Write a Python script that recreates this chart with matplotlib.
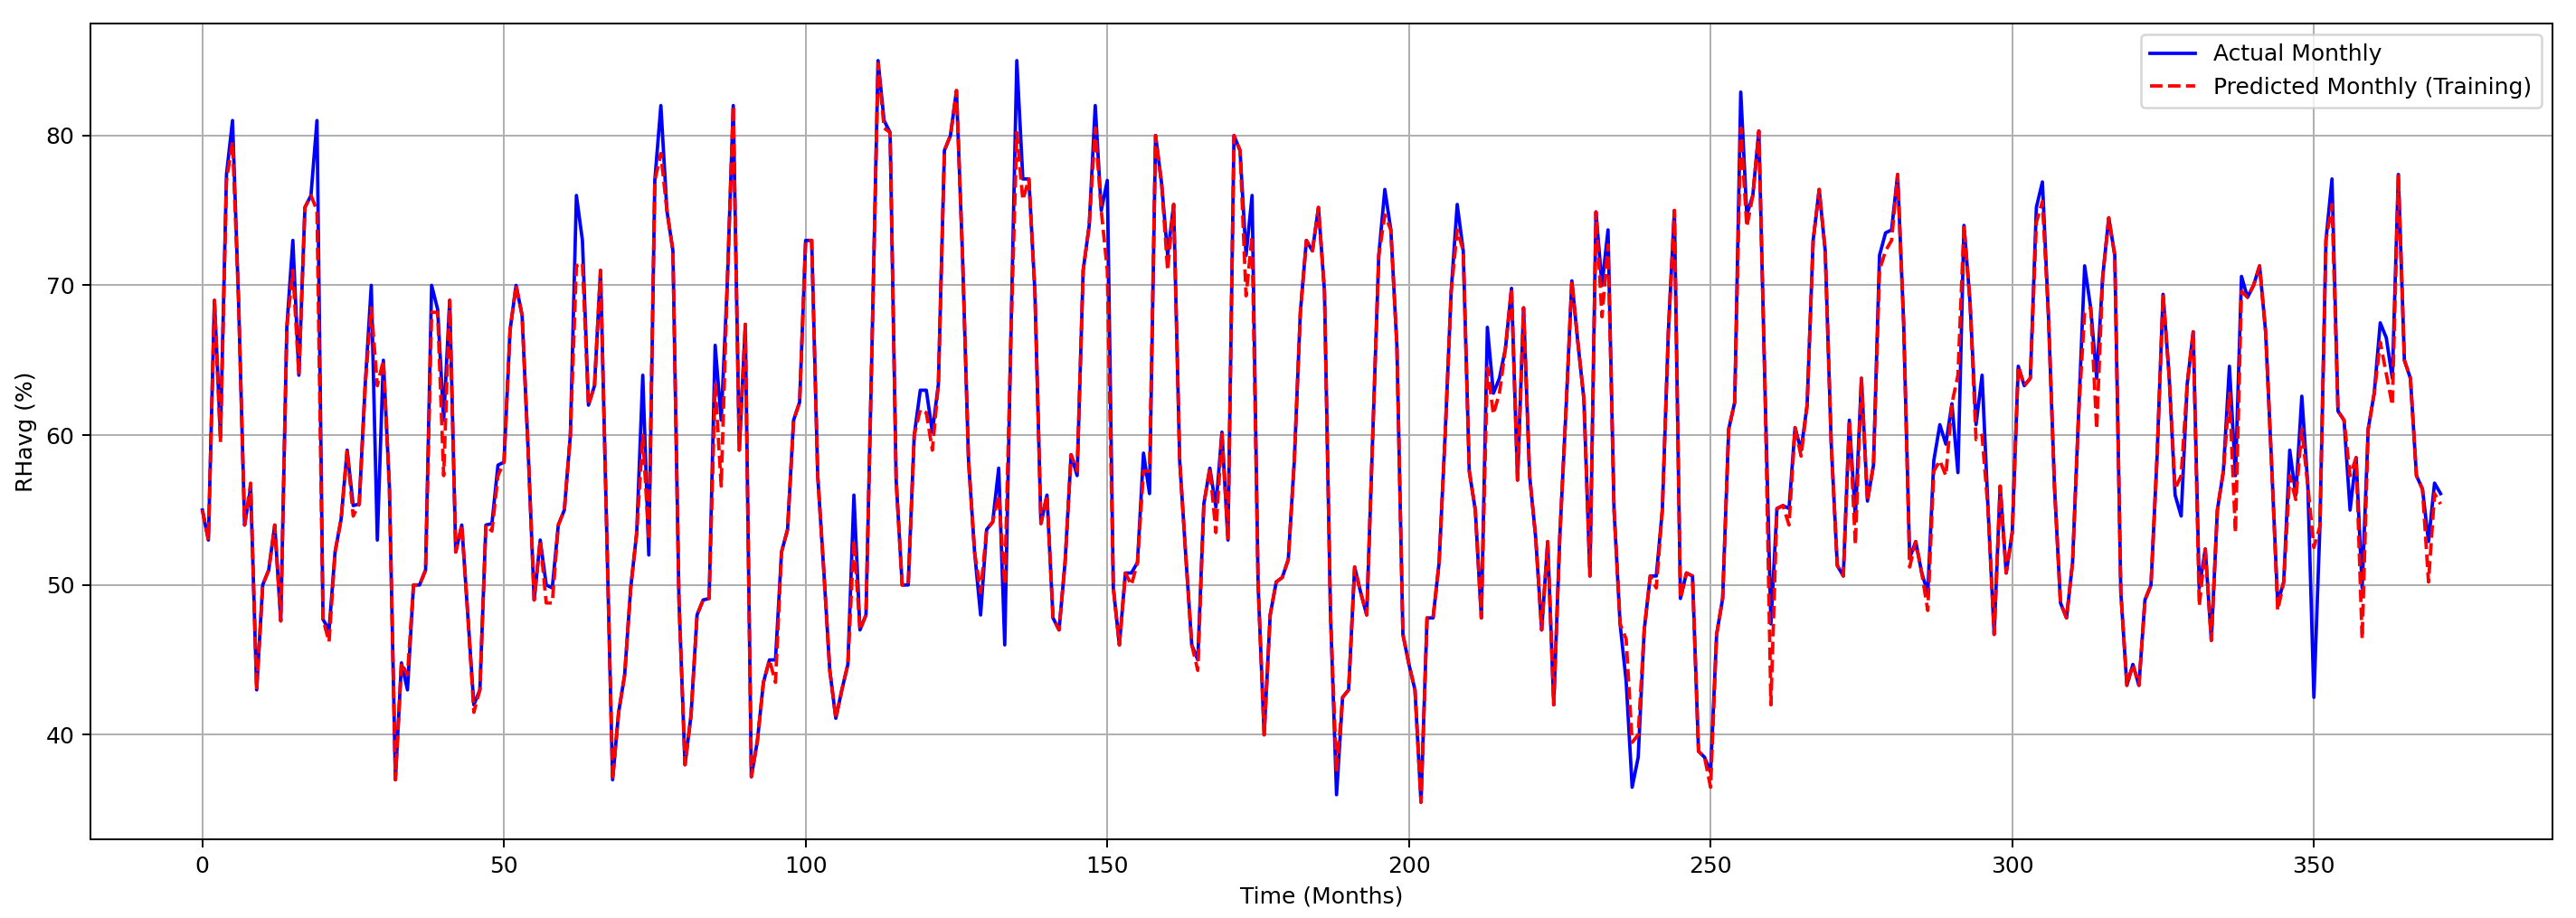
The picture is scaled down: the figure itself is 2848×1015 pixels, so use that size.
import numpy as np
import matplotlib
matplotlib.use("Agg")
import matplotlib.pyplot as plt

# monthly RHavg (months 0..371)
actual = [
    55, 53, 69, 60, 77.4, 81, 69, 54, 56.5, 43,
    50, 51, 54, 47.6, 67.2, 73, 64, 75.2, 76, 81,
    47.7, 47, 52.2, 54.4, 59, 55.3, 55.4, 63.4, 70, 53,
    65, 56.6, 37, 44.8, 43, 50, 50, 51, 70, 68.4,
    61, 69, 52.2, 54, 48, 42, 43, 54, 54.1, 58,
    58.2, 67, 70, 68, 59, 49, 53, 50, 49.8, 54,
    55, 60, 76, 73, 62, 63.3, 71, 54, 37, 41.5,
    44, 49.8, 53.5, 64, 52, 77, 82, 75, 72.3, 49,
    38, 41.3, 48, 49, 49.1, 66, 61, 70, 82, 59,
    67.4, 37.2, 39.6, 43.5, 45, 45, 52.2, 53.7, 61, 62.2,
    73, 73, 57.3, 51, 44.3, 41.1, 43, 44.7, 56, 47,
    48, 66, 85, 81, 80.2, 57, 50, 50, 60, 63,
    63, 60.2, 63.4, 79, 80, 83, 72, 58.3, 52.2, 48,
    53.7, 54.2, 57.8, 46, 66.2, 85, 77.1, 77.1, 69.6, 54.1,
    56, 47.8, 47, 51.5, 58.7, 57.3, 71, 74, 82, 75,
    77, 49.8, 46, 50.8, 50.8, 51.5, 58.8, 56.1, 80, 76.8,
    72, 75.4, 58.3, 52, 46, 45, 55.4, 57.8, 55.2, 60.2,
    53, 80, 79, 72, 76, 50, 40, 48, 50.2, 50.5,
    51.7, 58.3, 68.2, 73, 72.3, 75.2, 69.6, 48, 36, 42.5,
    43, 51.2, 49.5, 48, 60, 72, 76.4, 73.7, 66, 46.7,
    44.7, 43, 35.5, 47.8, 47.8, 51.5, 60, 69.6, 75.4, 72.3,
    57.6, 55, 47.8, 67.2, 62.8, 63.8, 65.8, 69.8, 57, 68.5,
    57.3, 53.2, 47, 52.9, 42, 53.2, 61.4, 70.3, 66.2, 62.4,
    50.6, 74.9, 70, 73.7, 55, 47.4, 43.6, 36.5, 38.5, 47,
    50.6, 50.6, 55, 66.9, 75, 49.1, 50.8, 50.6, 38.9, 38.5,
    37.5, 46.7, 49.1, 60.4, 62.2, 82.9, 74.7, 76, 80.3, 63.4,
    47.4, 55.1, 55.3, 55.1, 60.5, 59, 62, 73, 76.4, 72.3,
    59.4, 51.3, 50.6, 61, 54.5, 63.8, 55.6, 58, 72, 73.5,
    73.7, 77.4, 67.5, 51.8, 52.9, 50.8, 49.5, 58.3, 60.7, 59.4,
    62.1, 57.5, 74, 68.9, 60.7, 64, 55, 46.7, 56.6, 50.8,
    53.5, 64.6, 63.3, 63.8, 75.2, 76.9, 68, 56.6, 48.8, 47.8,
    51.5, 61.4, 71.3, 68.5, 63.8, 70.6, 74.5, 72, 49.5, 43.3,
    44.7, 43.3, 49, 50, 58.5, 69.4, 64, 56, 54.6, 63.4,
    66.9, 49.8, 52.4, 46.3, 55, 57.6, 64.6, 57.3, 70.6, 69.2,
    70, 71.3, 66.9, 58, 48.8, 50.2, 59, 56, 62.6, 56.6,
    42.5, 53.9, 73, 77.1, 61.6, 61, 55, 58.5, 49.8, 60.4,
    62.8, 67.5, 66.5, 63.8, 77.4, 65, 63.8, 57.3, 56.4, 52.9,
    56.8, 56.1,
]

predicted = [
    55, 53, 69, 59.5, 77, 79.6, 69, 54, 56.8, 43,
    50, 51, 54, 47.6, 67.2, 71, 64, 75.2, 76, 75,
    47.7, 46.2, 52.2, 54.4, 59, 54.6, 55.4, 63.4, 68.5, 63.3,
    65, 56.6, 37, 44.8, 44, 50, 50, 51, 68.2, 68.2,
    57.3, 69, 52.2, 54, 48, 41.5, 43, 54, 53.6, 57.3,
    58.2, 67, 70, 68, 59, 49, 53, 48.8, 48.8, 54,
    55, 60, 71.3, 71.5, 62, 63.3, 71, 54, 37, 41.5,
    44, 49.8, 53.5, 60, 53, 77, 78.8, 75, 72.3, 49,
    38, 41.3, 48, 49, 49.1, 63.4, 56.6, 70, 82, 59,
    67.4, 37.2, 39.6, 43.5, 45, 43.5, 52.2, 53.7, 61, 62.2,
    73, 73, 57.3, 51, 44.3, 41.1, 43, 44.7, 53, 47,
    48, 66, 84.8, 80.5, 80.2, 57, 50, 50, 60, 61.7,
    61.5, 59, 63.4, 79, 80, 83, 72, 58.3, 52.2, 49.5,
    53.7, 54.2, 56, 50, 66.2, 80.2, 75.7, 77.1, 69.6, 54.1,
    56, 47.8, 47, 51.5, 58.7, 57.6, 71, 74, 80.5, 75,
    71, 49.8, 46, 50.8, 50, 51.5, 57.6, 57.6, 80, 76.8,
    71, 75.4, 58.3, 52, 46, 44.3, 55.4, 57.8, 53.5, 60.2,
    53, 80, 79, 69.3, 73.3, 50, 40, 48, 50.2, 50.5,
    51.7, 58.3, 68.2, 73, 72.3, 75.2, 69.6, 48, 37.5, 42.5,
    43, 51.2, 49.5, 48, 60, 72, 74.7, 73.7, 66, 46.7,
    44.7, 43, 35.5, 47.8, 47.8, 51.5, 60, 69.6, 73.7, 72.3,
    57.6, 55, 47.8, 64.5, 61.4, 62.8, 65.8, 69.8, 57, 68.5,
    57.3, 53.2, 47, 52.9, 42, 53.2, 61.4, 70.3, 66.2, 62.4,
    50.6, 74.9, 67.9, 72.7, 55, 47.4, 46.4, 39.5, 40, 47,
    50.6, 49.8, 55, 66.9, 75, 49.1, 50.8, 50.6, 38.9, 38.5,
    36.5, 46.7, 49.1, 60.4, 62.2, 80.5, 73.9, 76, 80.3, 63.4,
    42, 55.1, 55.3, 54, 60.5, 58.6, 62, 73, 76.4, 72.3,
    59.4, 51.3, 50.6, 61, 52.7, 63.8, 55.6, 58, 71, 72.3,
    73, 77.4, 67.5, 51.2, 52.9, 50.8, 48.3, 57.6, 58.3, 57.3,
    62.1, 64, 74, 68.9, 59.7, 60, 55, 46.7, 56.6, 50.8,
    53.5, 64.6, 63.3, 63.8, 74.2, 75.6, 68, 56.6, 48.8, 47.8,
    51.5, 61.4, 68.2, 68.5, 60.4, 70.6, 74.5, 72, 49.5, 43.3,
    44.7, 43.3, 49, 50, 58.5, 69.4, 64, 56.4, 57.3, 63.4,
    66.9, 48.6, 52.4, 46.3, 55, 57.6, 62.8, 53.5, 69.6, 69.2,
    70, 71.3, 66.9, 58, 48.3, 50.2, 57.3, 55.7, 60.4, 56.6,
    52.5, 53.9, 73, 75.4, 61.6, 61, 57.3, 58.5, 46.4, 60.4,
    62.8, 66.2, 64.1, 62, 77.4, 65, 63.8, 57.3, 56.4, 50.2,
    56.1, 55.4,
]

months = np.arange(len(actual))

fig = plt.figure(figsize=(2848 / 180, 1015 / 180), dpi=180)
ax = fig.add_axes([100 / 2848, 87 / 1015, 2722 / 2848, 902 / 1015])

ax.plot(months, actual, color="blue", lw=1.5, label="Actual Monthly")
ax.plot(months, predicted, color="red", lw=1.5, ls="--", label="Predicted Monthly (Training)")

ax.set_xlabel("Time (Months)")
ax.set_ylabel("RHavg (%)")
ax.set_xticks([0, 50, 100, 150, 200, 250, 300, 350])
ax.set_yticks([40, 50, 60, 70, 80])
ax.grid(True)
ax.legend(loc="upper right")

fig.savefig("out.png", dpi=180)
